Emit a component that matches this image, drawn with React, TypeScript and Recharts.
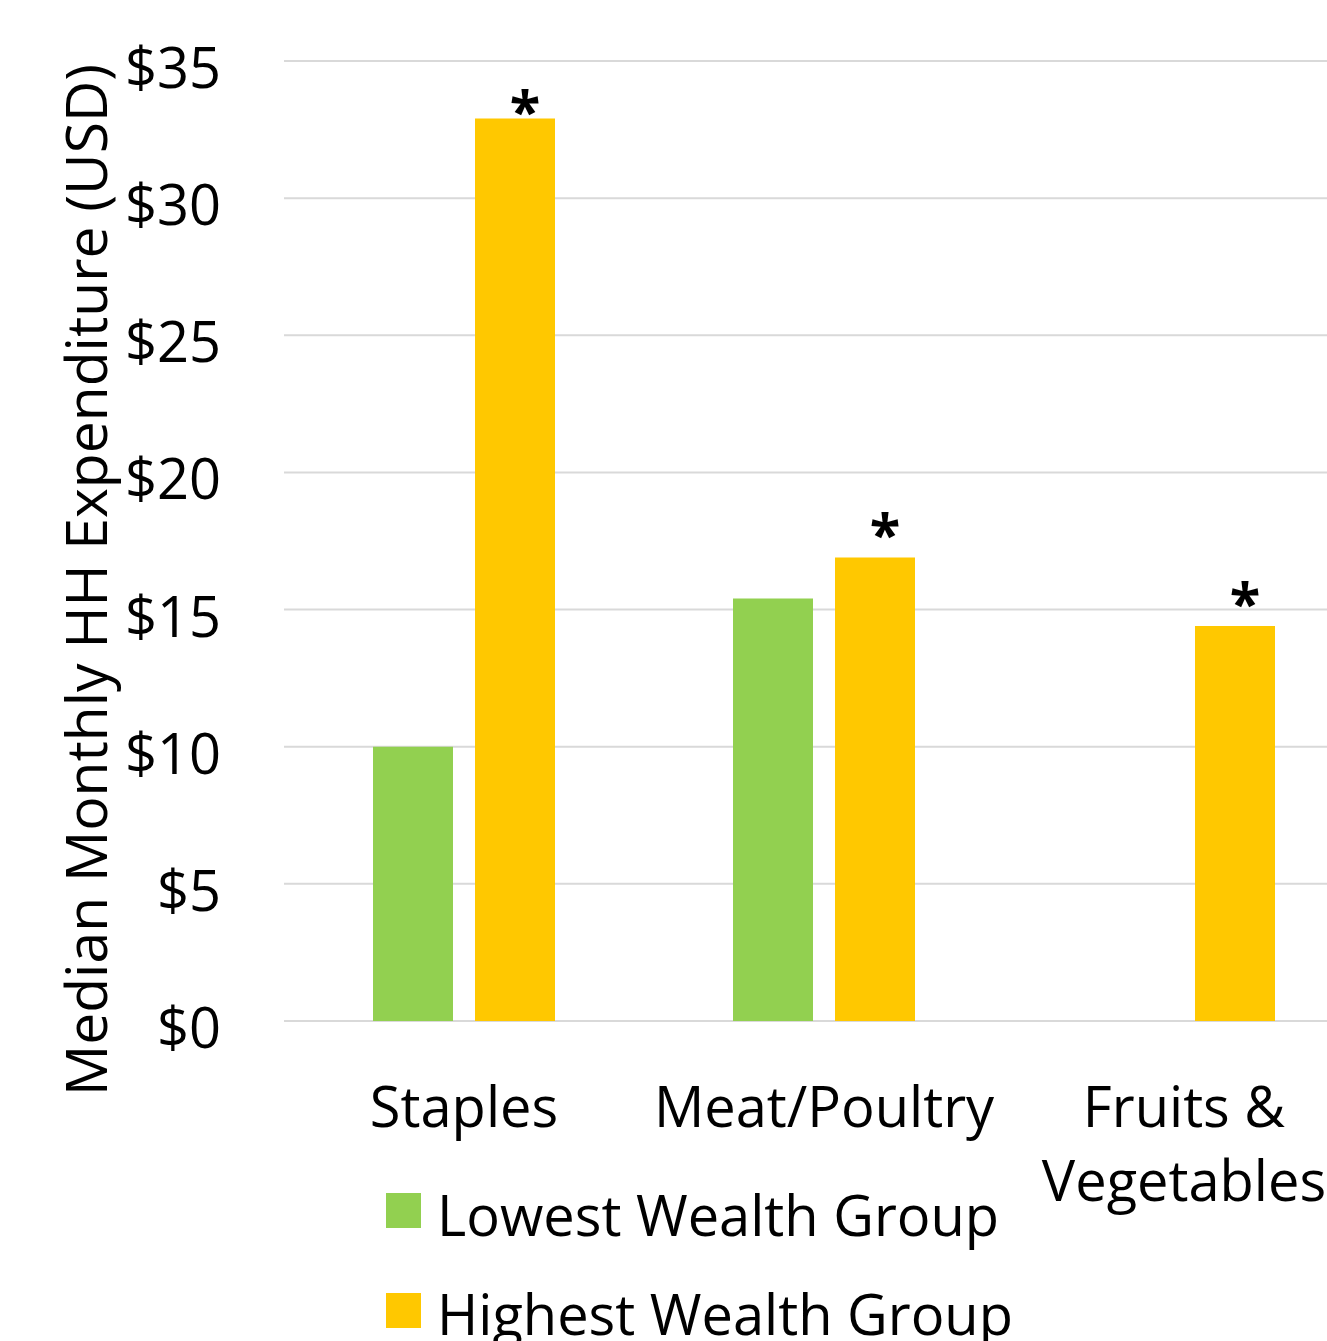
import React from 'react';
import { BarChart, Bar, XAxis, YAxis, CartesianGrid, LabelList } from 'recharts';

const categories = ['Staples', 'Meat/Poultry', 'Fruits & Vegetables'];
const categoryTickLines = [['Staples'], ['Meat/Poultry'], ['Fruits &', 'Vegetables']];
const lowestWealth = [10.0, 15.4, null];
const highestWealth = [32.9, 16.9, 14.4];
const highestSignificance = ['*', '*', '*'];
const yTicks = [0, 5, 10, 15, 20, 25, 30, 35];
const seriesKeys = ['lowest', 'highest'];
const seriesNames = ['Lowest Wealth Group', 'Highest Wealth Group'];
const seriesColors = ['#92D050', '#FFC800'];
const yAxisTitle = 'Median Monthly HH Expenditure (USD)';

const FONT = '"Open Sans", sans-serif';
const FS = 56;

const data = categories.map((name, i) => ({
  name,
  lowest: lowestWealth[i],
  highest: highestWealth[i],
  sig: highestSignificance[i],
}));

const XTick = (props: any) => {
  const { x, y, payload } = props;
  const idx = categories.indexOf(payload.value);
  const lines = idx >= 0 ? categoryTickLines[idx] : [String(payload.value)];
  return (
    <text x={x} y={y + 106} textAnchor="middle" fontSize={FS} fontFamily={FONT} fill="#000">
      {lines.map((l, i) => (
        <tspan key={i} x={x} dy={i === 0 ? 0 : 74}>
          {l}
        </tspan>
      ))}
    </text>
  );
};

const YTick = (props: any) => {
  const { x, y, payload } = props;
  return (
    <text x={x} y={y + 27} textAnchor="end" fontSize={FS} fontFamily={FONT} fill="#000">
      {`$${payload.value}`}
    </text>
  );
};

const SigLabel = (props: any) => {
  const { x, y, width, value } = props;
  if (!value) return null;
  return (
    <text
      x={x + width / 2 + 10}
      y={Math.max(y - 3, 131)}
      textAnchor="middle"
      fontSize={FS}
      fontWeight={700}
      fontFamily={FONT}
      fill="#000"
    >
      {value}
    </text>
  );
};

const YTitle = () => (
  <text
    x={107}
    y={580}
    transform="rotate(-90, 107, 580)"
    textAnchor="middle"
    fontSize={57}
    fontFamily={FONT}
    fill="#000"
  >
    {yAxisTitle}
  </text>
);

export default function App() {
  return (
    <div
      style={{
        position: 'absolute',
        left: 0,
        top: 0,
        width: 1327,
        height: 1341,
        overflow: 'hidden',
        background: '#fff',
        fontFamily: FONT,
      }}
    >
      <BarChart
        width={1400}
        height={1341}
        data={data}
        margin={{ top: 61, right: 36, bottom: 0, left: 0 }}
        barCategoryGap={89}
        barGap={22}
      >
        <CartesianGrid vertical={false} stroke="#D9D9D9" strokeWidth={2} />
        <XAxis
          dataKey="name"
          height={320}
          axisLine={false}
          tickLine={false}
          tickSize={0}
          tickMargin={0}
          interval={0}
          tick={<XTick />}
        />
        <YAxis
          width={284}
          domain={[0, 35]}
          ticks={yTicks}
          axisLine={false}
          tickLine={false}
          tickSize={0}
          tickMargin={63}
          interval={0}
          tick={<YTick />}
          label={<YTitle />}
        />
        {seriesKeys.map((k, i) => (
          <Bar key={k} dataKey={k} name={seriesNames[i]} fill={seriesColors[i]} isAnimationActive={false}>
            {k === 'highest' ? <LabelList dataKey="sig" content={<SigLabel />} /> : null}
          </Bar>
        ))}
      </BarChart>
      <svg
        width={1327}
        height={1341}
        style={{ position: 'absolute', left: 0, top: 0, pointerEvents: 'none' }}
      >
        {seriesNames.map((n, i) => (
          <g key={n}>
            <rect x={386} y={1193 + i * 100} width={35} height={35} fill={seriesColors[i]} />
            <text x={437} y={1236 + i * 99} fontSize={FS} fontFamily={FONT} fill="#000">
              {n}
            </text>
          </g>
        ))}
      </svg>
    </div>
  );
}
